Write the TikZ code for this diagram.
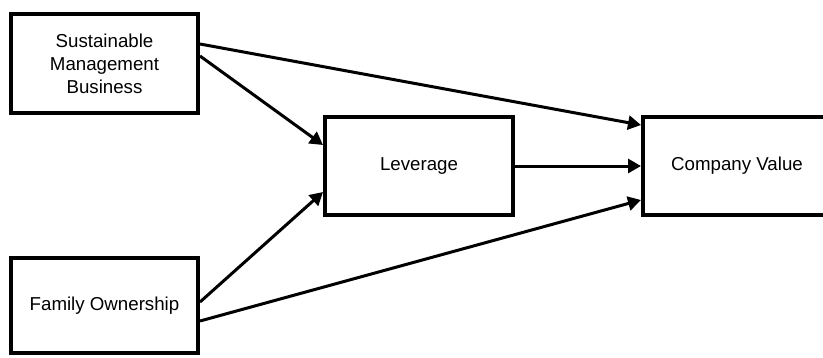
\documentclass[tikz,border=0pt]{standalone}
\usepackage{fontspec}
\setmainfont{Liberation Sans}
\usetikzlibrary{arrows.meta}
\begin{document}
\begin{tikzpicture}[x=1pt,y=-1pt,
  box/.style={draw,line width=4pt,align=center,inner sep=0pt,
    font=\fontsize{18.7pt}{23pt}\selectfont},
  link/.style={line width=3pt,-{Triangle[length=13pt,width=14pt]}}]
  \useasboundingbox (0,0) rectangle (823,357);
  \clip (0,0) rectangle (823,357);
  % variables
  \node[box,minimum width=187pt,minimum height=99pt] (smb) at (104.5,63.5)
    {Sustainable\\Management\\Business};
  \node[box,minimum width=187pt,minimum height=95pt] (fo) at (104.5,305.5)
    {Family Ownership};
  \node[box,minimum width=188pt,minimum height=98pt] (lev) at (419,166)
    {Leverage};
  \node[box,minimum width=188pt,minimum height=98pt] (cv) at (737,166)
    {Company Value};
  % paths
  \draw[link] ([yshift=19.5pt]smb.east) -- ([yshift=41pt]cv.west);
  \draw[link] ([yshift=7.5pt]smb.east) -- ([yshift=21pt]lev.west);
  \draw[link] ([yshift=3.5pt]fo.east) -- ([yshift=-26pt]lev.west);
  \draw[link] ([yshift=-15.5pt]fo.east) -- ([yshift=-34pt]cv.west);
  \draw[link] (lev.east) -- (cv.west);
\end{tikzpicture}
\end{document}
